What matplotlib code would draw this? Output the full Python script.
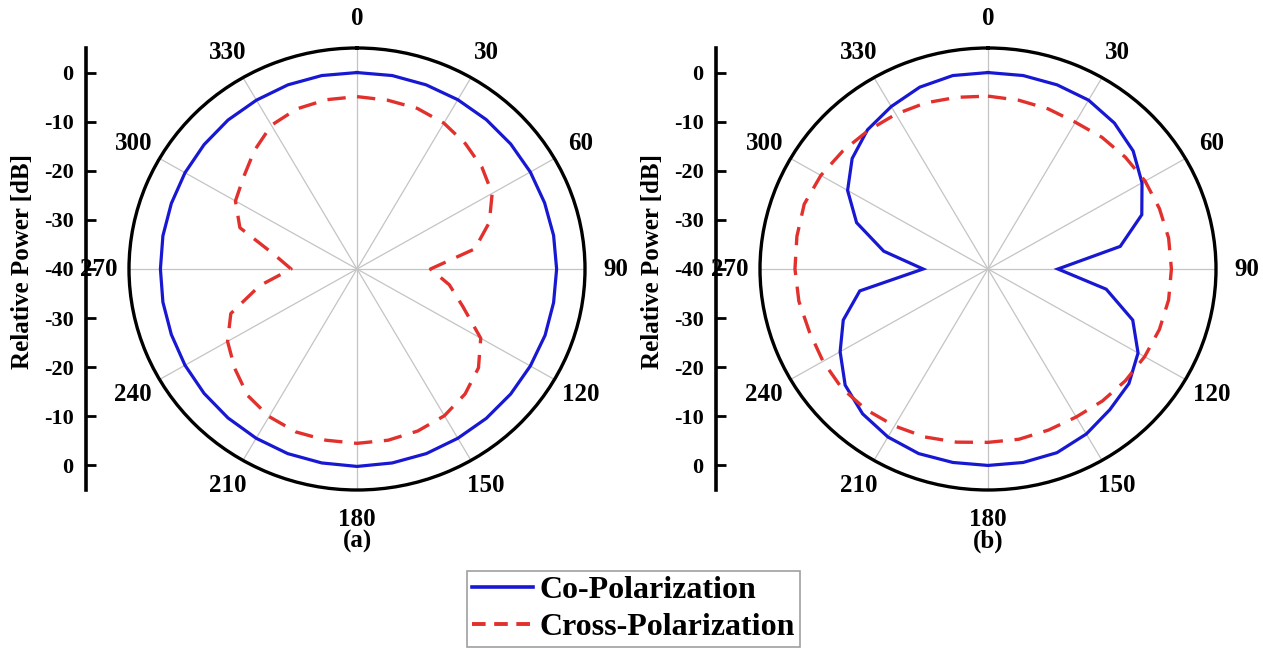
import numpy as np
import matplotlib
matplotlib.use("Agg")
import matplotlib.pyplot as plt
from matplotlib.lines import Line2D

plt.rcParams['font.family'] = ['Liberation Serif', 'DejaVu Serif']
plt.rcParams['font.weight'] = 'bold'

# ---------------- data ----------------
angles_deg = list(range(0, 361, 10))

co_a = [0.0, 0.0, -0.1, -0.2, -0.3, -0.4, -0.5, -0.6, -0.6, -0.6, -0.6, -0.5, -0.5,
        -0.4, -0.3, -0.2, 0.0, 0.1, 0.2, 0.1, 0.0, -0.2, -0.4, -0.6, -0.8, -1.0,
        -1.1, -1.2, -1.1, -1.0, -0.8, -0.6, -0.4, -0.3, -0.1, 0.0, 0.0]
cross_a = [-4.9, -5.1, -5.2, -5.7, -6.7, -7.8, -9.2, -12.2, -16.4, -25.5, -21.5, -17.8,
           -11.8, -8.7, -6.8, -5.5, -4.9, -4.6, -4.5, -4.6, -4.7, -5.3, -6.4, -8.5,
           -10.5, -13.5, -20.5, -27.0, -23.5, -15.4, -12.3, -10.8, -8.5, -6.2, -5.3,
           -5.0, -4.9]
co_b = [0.0, 0.0, -0.1, -0.3, -1.2, -2.6, -4.9, -7.7, -13.5, -26.2, -16.3, -9.6, -5.8,
        -3.7, -2.6, -1.2, -0.2, 0.0, 0.0, 0.0, 0.0, -0.5, -1.5, -3.2, -6.3, -9.6,
        -14.3, -27.2, -19.1, -12.4, -8.0, -5.0, -3.0, -1.8, -0.6, 0.0, 0.0]
cross_b = [-4.8, -5.1, -5.3, -5.5, -5.0, -4.6, -4.2, -4.0, -3.8, -3.8, -3.8, -4.0, -4.3,
           -4.6, -4.9, -5.2, -5.1, -4.8, -4.7, -4.2, -3.6, -3.1, -2.6, -2.3, -2.4,
           -2.5, -2.1, -1.9, -1.7, -1.4, -1.9, -2.6, -3.2, -3.6, -4.0, -4.5, -4.8]

theta_ticks = list(range(0, 360, 30))
theta_labels = [str(t) for t in theta_ticks]
r_tick_pos = [40, 30, 20, 10, 0, -10, -20, -30, -40]
r_tick_labels = ['0', '-10', '-20', '-30', '-40', '-30', '-20', '-10', '0']
panel_labels = ['(a)', '(b)']
legend_labels = ['Co-Polarization', 'Cross-Polarization']

CO_COLOR = '#1818d2'
CROSS_COLOR = '#e2302c'

W, H = 1263, 649
fig = plt.figure(figsize=(W / 100, H / 100), dpi=100)

centers_x = [357, 988]
cy = 269
rx, ry = 228, 221
scale_x = [86, 716]

for i, (co, cross) in enumerate([(co_a, cross_a), (co_b, cross_b)]):
    cx = centers_x[i]
    ax = fig.add_axes([(cx - rx) / W, (H - cy - ry) / H, 2 * rx / W, 2 * ry / H],
                      projection='polar')
    ax.set_aspect('auto')
    ax.set_theta_zero_location('N')
    ax.set_theta_direction(-1)
    th = np.deg2rad(angles_deg)
    ax.plot(th, co, color=CO_COLOR, lw=2.3, solid_joinstyle='miter')
    ax.plot(th, cross, color=CROSS_COLOR, lw=2.4, dashes=(5.5, 3.5))
    ax.set_rlim(-40, 5)
    ax.set_yticks([])
    ax.set_xticks(np.deg2rad(theta_ticks))
    ax.set_xticklabels([''] * len(theta_ticks))
    ax.xaxis.grid(True, color='#c4c4c4', lw=0.9)
    ax.yaxis.grid(False)
    ax.spines['polar'].set_linewidth(2.4)
    ax.tick_params(axis='x', direction='in', length=7, width=1.8, colors='black')
    for t, lab in zip(theta_ticks, theta_labels):
        ax.text(np.deg2rad(t), 11.0, lab, ha='center', va='center',
                fontsize=18, fontweight='bold', clip_on=False)

    # left radial scale
    sa = fig.add_axes([scale_x[i] / W, (H - cy - ry) / H, 0.001, 2 * ry / H])
    sa.set_facecolor('none')
    for s in ['top', 'right', 'bottom']:
        sa.spines[s].set_visible(False)
    sa.spines['left'].set_linewidth(2.6)
    sa.set_ylim(-45.1, 45.1)
    sa.set_xticks([])
    sa.set_yticks(r_tick_pos)
    sa.set_yticklabels(r_tick_labels, fontsize=16, fontweight='bold')
    sa.tick_params(axis='y', direction='in', length=7, width=2, pad=9)
    fig.text((scale_x[i] - 63) / W, 1 - 262 / H, 'Relative Power [dB]',
             rotation=90, ha='center', va='center', fontsize=18, fontweight='bold')

    fig.text(cx / W, 1 - 541 / H, panel_labels[i], ha='center', va='center',
             fontsize=18, fontweight='bold')

handles = [Line2D([], [], color=CO_COLOR, lw=2.6),
           Line2D([], [], color=CROSS_COLOR, lw=2.8, dashes=(3.5, 2.2))]
leg = fig.legend(handles, legend_labels, loc='center',
                 bbox_to_anchor=(633.5 / W, 1 - 609 / H),
                 prop={'family': 'Liberation Serif', 'weight': 'bold', 'size': 23},
                 frameon=True, fancybox=False, edgecolor='#888888',
                 handlelength=1.9, handletextpad=0.2, labelspacing=0.22,
                 borderpad=0.15, borderaxespad=0)
leg.get_frame().set_linewidth(1.2)

fig.savefig('out.png', dpi=100)
